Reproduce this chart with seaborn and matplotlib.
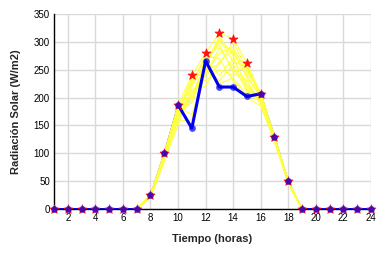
import numpy as np
import pandas as pd
import matplotlib
matplotlib.use("Agg")
import matplotlib.pyplot as plt
import seaborn as sns

hours = list(range(1, 25))
max_vals = [0, 0, 0, 0, 0, 0, 0, 25, 100, 187, 240, 280, 316, 306, 262, 207, 130, 50, 0, 0, 0, 0, 0, 0]
blue_vals = [0, 0, 0, 0, 0, 0, 0, 25, 100, 187, 145, 266, 219, 219, 202, 207, 130, 50, 0, 0, 0, 0, 0, 0]
day_series = [
    [22, 95, 180, 220, 265, 300, 280, 240, 200, 128, 48],
    [20, 90, 170, 200, 250, 260, 300, 250, 205, 125, 45],
    [24, 98, 175, 230, 270, 240, 270, 220, 195, 130, 50],
    [23, 92, 160, 210, 240, 290, 250, 230, 190, 120, 47],
    [25, 97, 185, 190, 255, 230, 260, 210, 200, 127, 49],
    [21, 88, 150, 225, 275, 270, 230, 200, 185, 122, 46],
    [24, 99, 182, 170, 245, 280, 290, 245, 210, 129, 50],
    [22, 93, 178, 235, 230, 250, 240, 260, 198, 126, 48],
    [20, 85, 165, 205, 260, 310, 275, 215, 192, 124, 47],
    [25, 100, 187, 240, 280, 316, 306, 262, 207, 130, 50],
    [23, 96, 172, 215, 220, 265, 285, 235, 203, 127, 49],
    [21, 91, 168, 195, 268, 295, 245, 225, 188, 123, 46],
    [24, 94, 158, 160, 250, 225, 235, 205, 194, 121, 47],
    [22, 89, 176, 228, 258, 305, 265, 255, 201, 126, 49],
]
xticks = list(range(2, 25, 2))
yticks = list(range(0, 351, 50))

sns.set_style("white")
plt.rcParams['font.family'] = ['Liberation Sans', 'DejaVu Sans']

fig = plt.figure(figsize=(3.86, 2.6), dpi=100)
ax = fig.add_axes([0.14, 0.196, 0.821, 0.75])

df_blue = pd.DataFrame({"hour": hours, "val": blue_vals})
sns.lineplot(data=df_blue, x="hour", y="val", color="#50508a", lw=0.9, ax=ax, zorder=2)

rows = []
for i, s in enumerate(day_series):
    full = [0] * 7 + s + [0] * 6
    for h, v in zip(hours, full):
        rows.append({"hour": h, "val": v, "day": i})
df_days = pd.DataFrame(rows)
sns.lineplot(data=df_days, x="hour", y="val", units="day", estimator=None,
             color="#ffff40", lw=0.8, ax=ax, legend=False, zorder=3)

sub = df_blue[(df_blue.hour >= 10) & (df_blue.hour <= 16)]
sns.lineplot(data=sub, x="hour", y="val", color="#0000ee", lw=2.2, ax=ax, zorder=4)
for seg in [df_blue[df_blue.hour <= 7], df_blue[df_blue.hour >= 19]]:
    sns.lineplot(data=seg, x="hour", y="val", color="#0000ee", lw=1.4, ax=ax, zorder=4)

df_max = pd.DataFrame({"hour": hours, "val": max_vals})
sns.scatterplot(data=df_max, x="hour", y="val", marker="*", s=45, color="#ff1010",
                edgecolor="#ff1010", linewidth=0.6, ax=ax, zorder=5, clip_on=False)
sns.scatterplot(data=df_blue, x="hour", y="val", marker="o", s=24, color="#0000ee",
                edgecolor="#0000ee", linewidth=0, alpha=0.7, ax=ax, zorder=6, clip_on=False)

ax.set_xlim(1, 24)
ax.set_ylim(0, 350)
ax.set_xticks(xticks)
ax.set_yticks(yticks)
ax.grid(True, color="#d9d9d9", lw=1.0)
ax.set_axisbelow(True)
for sp in ["top", "right"]:
    ax.spines[sp].set_visible(False)
for sp in ["left", "bottom"]:
    ax.spines[sp].set_color("black")
    ax.spines[sp].set_linewidth(1.0)
ax.tick_params(direction="in", length=3, width=1.0, labelsize=7, colors="black", pad=3)
ax.set_xlabel("Tiempo (horas)", fontsize=8, fontweight="bold", labelpad=8)
ax.set_ylabel("Radiación Solar (W/m2)", fontsize=8, fontweight="bold", labelpad=9)

fig.savefig("out.png", dpi=100)
